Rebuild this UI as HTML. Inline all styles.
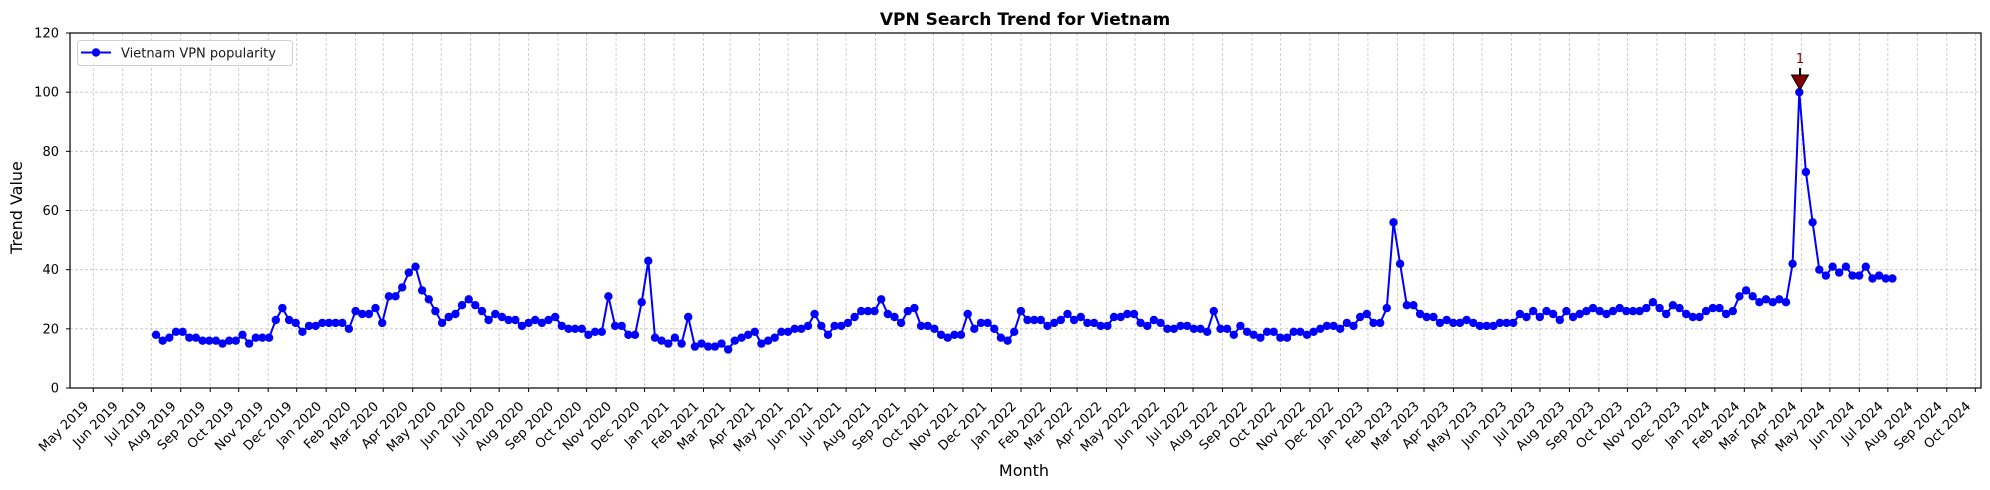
<!DOCTYPE html>
<html><head><meta charset="utf-8">
<style>
html,body{margin:0;padding:0;background:#fff;}
svg{display:block;font-family:"DejaVu Sans","Liberation Sans",sans-serif;}
.xt text{font-size:13px;fill:#000;}
</style></head>
<body>
<svg id="s" width="1990" height="490" viewBox="0 0 1990 490" xmlns="http://www.w3.org/2000/svg">
<rect width="1990" height="490" fill="#fff"/>
<g id="grid"></g>
<g id="data"></g>
<!-- annotation -->
<line x1="1800" y1="68" x2="1800" y2="76" stroke="#000" stroke-width="2"/>
<polygon points="1791.5,75 1808.5,75 1800,90" fill="#800000" stroke="#000" stroke-width="1"/>
<text x="1800" y="63" text-anchor="middle" font-size="13" fill="#8b0000">1</text>
<!-- spines -->
<rect x="70" y="33" width="1911" height="355" fill="none" stroke="#000" stroke-width="1.2"/>
<!-- legend -->
<rect x="77.5" y="40.5" width="215" height="25" rx="3" fill="#fff" fill-opacity="0.8" stroke="#d0d0d0" stroke-width="1"/>
<line x1="81" y1="52.5" x2="111" y2="52.5" stroke="#0000ff" stroke-width="2"/>
<circle cx="96" cy="52.5" r="4.2" fill="#0000ff"/>
<text x="121" y="57.5" font-size="13" fill="#1a1a1a">Vietnam VPN popularity</text>
<!-- title and axis labels -->
<text x="1025" y="25" text-anchor="middle" font-size="17" font-weight="bold">VPN Search Trend for Vietnam</text>
<text x="1024" y="476" text-anchor="middle" font-size="16">Month</text>
<text transform="translate(22,207.5) rotate(-90)" text-anchor="middle" font-size="16">Trend Value</text>
<!-- y tick labels -->
<g font-size="13" text-anchor="end">
<text x="59" y="392.5">0</text>
<text x="59" y="333.3">20</text>
<text x="59" y="274.2">40</text>
<text x="59" y="215">60</text>
<text x="59" y="155.8">80</text>
<text x="59" y="96.7">100</text>
<text x="59" y="37.5">120</text>
</g>
<!-- x tick labels -->
<g class="xt" text-anchor="end">
<text transform="translate(89.3,407) rotate(-45)">May 2019</text>
<text transform="translate(118.8,407) rotate(-45)">Jun 2019</text>
<text transform="translate(147.3,407) rotate(-45)">Jul 2019</text>
<text transform="translate(176.7,407) rotate(-45)">Aug 2019</text>
<text transform="translate(206.2,407) rotate(-45)">Sep 2019</text>
<text transform="translate(234.7,407) rotate(-45)">Oct 2019</text>
<text transform="translate(264.2,407) rotate(-45)">Nov 2019</text>
<text transform="translate(292.7,407) rotate(-45)">Dec 2019</text>
<text transform="translate(322.2,407) rotate(-45)">Jan 2020</text>
<text transform="translate(351.6,407) rotate(-45)">Feb 2020</text>
<text transform="translate(379.2,407) rotate(-45)">Mar 2020</text>
<text transform="translate(408.7,407) rotate(-45)">Apr 2020</text>
<text transform="translate(437.2,407) rotate(-45)">May 2020</text>
<text transform="translate(466.6,407) rotate(-45)">Jun 2020</text>
<text transform="translate(495.2,407) rotate(-45)">Jul 2020</text>
<text transform="translate(524.6,407) rotate(-45)">Aug 2020</text>
<text transform="translate(554.1,407) rotate(-45)">Sep 2020</text>
<text transform="translate(582.6,407) rotate(-45)">Oct 2020</text>
<text transform="translate(612.1,407) rotate(-45)">Nov 2020</text>
<text transform="translate(640.6,407) rotate(-45)">Dec 2020</text>
<text transform="translate(670.1,407) rotate(-45)">Jan 2021</text>
<text transform="translate(699.5,407) rotate(-45)">Feb 2021</text>
<text transform="translate(726.1,407) rotate(-45)">Mar 2021</text>
<text transform="translate(755.6,407) rotate(-45)">Apr 2021</text>
<text transform="translate(784.1,407) rotate(-45)">May 2021</text>
<text transform="translate(813.6,407) rotate(-45)">Jun 2021</text>
<text transform="translate(842.1,407) rotate(-45)">Jul 2021</text>
<text transform="translate(871.6,407) rotate(-45)">Aug 2021</text>
<text transform="translate(901.0,407) rotate(-45)">Sep 2021</text>
<text transform="translate(929.5,407) rotate(-45)">Oct 2021</text>
<text transform="translate(959.0,407) rotate(-45)">Nov 2021</text>
<text transform="translate(987.5,407) rotate(-45)">Dec 2021</text>
<text transform="translate(1017.0,407) rotate(-45)">Jan 2022</text>
<text transform="translate(1046.5,407) rotate(-45)">Feb 2022</text>
<text transform="translate(1073.1,407) rotate(-45)">Mar 2022</text>
<text transform="translate(1102.5,407) rotate(-45)">Apr 2022</text>
<text transform="translate(1131.1,407) rotate(-45)">May 2022</text>
<text transform="translate(1160.5,407) rotate(-45)">Jun 2022</text>
<text transform="translate(1189.0,407) rotate(-45)">Jul 2022</text>
<text transform="translate(1218.5,407) rotate(-45)">Aug 2022</text>
<text transform="translate(1248.0,407) rotate(-45)">Sep 2022</text>
<text transform="translate(1276.5,407) rotate(-45)">Oct 2022</text>
<text transform="translate(1306.0,407) rotate(-45)">Nov 2022</text>
<text transform="translate(1334.5,407) rotate(-45)">Dec 2022</text>
<text transform="translate(1364.0,407) rotate(-45)">Jan 2023</text>
<text transform="translate(1393.4,407) rotate(-45)">Feb 2023</text>
<text transform="translate(1420.0,407) rotate(-45)">Mar 2023</text>
<text transform="translate(1449.5,407) rotate(-45)">Apr 2023</text>
<text transform="translate(1478.0,407) rotate(-45)">May 2023</text>
<text transform="translate(1507.5,407) rotate(-45)">Jun 2023</text>
<text transform="translate(1536.0,407) rotate(-45)">Jul 2023</text>
<text transform="translate(1565.4,407) rotate(-45)">Aug 2023</text>
<text transform="translate(1594.9,407) rotate(-45)">Sep 2023</text>
<text transform="translate(1623.4,407) rotate(-45)">Oct 2023</text>
<text transform="translate(1652.9,407) rotate(-45)">Nov 2023</text>
<text transform="translate(1681.4,407) rotate(-45)">Dec 2023</text>
<text transform="translate(1710.9,407) rotate(-45)">Jan 2024</text>
<text transform="translate(1740.4,407) rotate(-45)">Feb 2024</text>
<text transform="translate(1767.9,407) rotate(-45)">Mar 2024</text>
<text transform="translate(1797.4,407) rotate(-45)">Apr 2024</text>
<text transform="translate(1825.9,407) rotate(-45)">May 2024</text>
<text transform="translate(1855.3,407) rotate(-45)">Jun 2024</text>
<text transform="translate(1883.9,407) rotate(-45)">Jul 2024</text>
<text transform="translate(1913.3,407) rotate(-45)">Aug 2024</text>
<text transform="translate(1942.8,407) rotate(-45)">Sep 2024</text>
<text transform="translate(1971.3,407) rotate(-45)">Oct 2024</text>
</g>
</svg>
<script>
(function(){
var NS="http://www.w3.org/2000/svg";
var days=[0,31,61,92,123,153,184,214,245,276,305,336,366,397,427,458,489,519,550,580,611,642,670,701,731,762,792,823,854,884,915,945,976,1007,1035,1066,1096,1127,1157,1188,1219,1249,1280,1310,1341,1372,1400,1431,1461,1492,1522,1553,1584,1614,1645,1675,1706,1737,1766,1797,1827,1858,1888,1919,1950,1980];
var g=document.getElementById('grid');
function el(t,a,p){var e=document.createElementNS(NS,t);for(var k in a)e.setAttribute(k,a[k]);p.appendChild(e);return e;}
var gs={stroke:"#c4c4c4","stroke-width":"0.8","stroke-dasharray":"3,2",fill:"none"};
days.forEach(function(d){var x=93.3+d*0.9505;
 var a=Object.assign({x1:x,x2:x,y1:33,y2:388},gs);el('line',a,g);
 el('line',{x1:x,x2:x,y1:388,y2:392,stroke:"#000","stroke-width":"1"},g);});
for(var v=0;v<=120;v+=20){var y=388-v*355/120;
 if(v>0&&v<120){var a=Object.assign({x1:70,x2:1981,y1:y,y2:y},gs);el('line',a,g);}
 el('line',{x1:66,x2:70,y1:y,y2:y,stroke:"#000","stroke-width":"1"},g);}
var vals=[18,16,17,19,19,17,17,16,16,16,15,16,16,18,15,17,17,17,23,27,23,22,19,21,21,22,22,22,22,20,26,25,25,27,22,31,31,34,39,41,33,30,26,22,24,25,28,30,
28,26,23,25,24,23,23,21,22,23,22,23,24,21,20,20,20,18,19,19,31,21,21,18,18,29,43,
17,16,15,17,15,24,14,15,14,14,15,13,16,17,18,19,15,16,17,19,19,20,20,21,25,21,18,21,21,22,24,26,26,26,30,25,24,22,26,27,21,21,20,18,17,18,18,25,20,22,22,20,17,16,19,26,23,23,23,21,22,23,25,23,24,22,22,21,21,24,24,25,25,22,21,23,22,20,20,21,21,20,20,19,26,20,20,18,21,19,18,17,19,19,17,17,19,19,18,19,20,21,21,20,22,21,24,25,22,22,27,56,
42,28,28,25,24,24,22,23,22,22,23,22,21,21,21,22,22,22,25,24,26,24,26,25,23,26,24,25,26,27,26,25,26,27,26,26,26,27,29,27,25,28,27,25,24,24,26,27,27,25,26,31,33,31,29,30,29,30,29,42,100,
73,56,40,38,41,39,41,38,38,41,37,38,37,37];
var dg=document.getElementById('data');var pts=[];
vals.forEach(function(v,i){pts.push((156+i*6.653).toFixed(1)+","+(388-v*355/120).toFixed(1));});
el('polyline',{points:pts.join(" "),fill:"none",stroke:"#0000ff","stroke-width":"2","stroke-linejoin":"round"},dg);
pts.forEach(function(p){var c=p.split(",");el('circle',{cx:c[0],cy:c[1],r:"4.2",fill:"#0000ff"},dg);});
})();
</script>
</body></html>
